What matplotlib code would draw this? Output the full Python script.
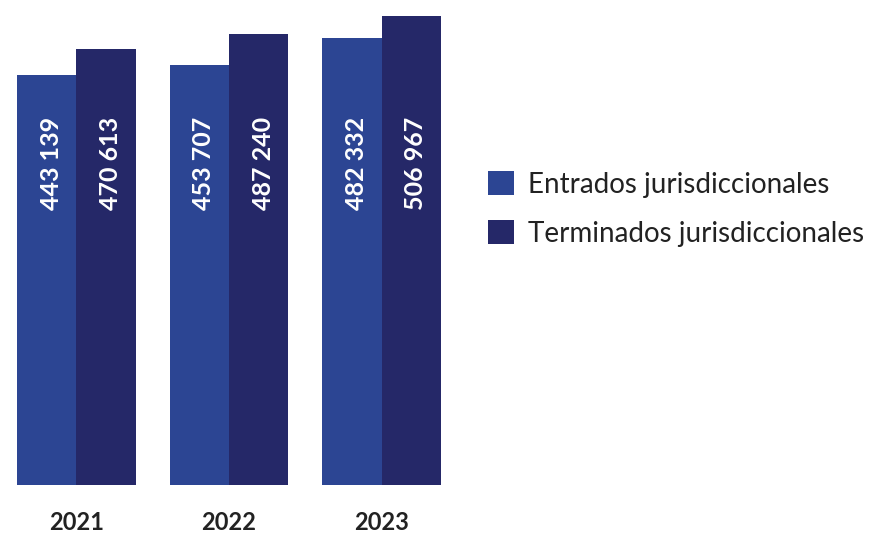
import matplotlib.pyplot as plt
import numpy as np

years = ['2021', '2022', '2023']
entrados = [443139, 453707, 482332]
terminados = [470613, 487240, 506967]
series_names = ['Entrados jurisdiccionales', 'Terminados jurisdiccionales']
colors = ['#2c4593', '#252868']

plt.rcParams['font.family'] = ['Lato', 'DejaVu Sans']

fig = plt.figure(figsize=(8.69, 5.35), dpi=100)
ax = fig.add_axes([17 / 869, 50 / 535, 424 / 869, 485 / 535])

x = np.arange(len(years))
w = 0.39
b1 = ax.bar(x - w / 2, entrados, w, color=colors[0], label=series_names[0])
b2 = ax.bar(x + w / 2, terminados, w, color=colors[1], label=series_names[1])

fmt = lambda v: '{:,}'.format(v).replace(',', ' ')
for xs, vals in [(x - w / 2, entrados), (x + w / 2, terminados)]:
    for xi, v in zip(xs, vals):
        ax.text(xi + 0.03, 0.567, fmt(v), transform=ax.get_xaxis_transform(),
                rotation=90, ha='center', va='bottom', color='white',
                fontsize=18, fontweight='bold')

ax.set_xlim(-0.39, 2.39)
ax.set_ylim(0, 523800)
ax.set_xticks(x)
ax.set_xticklabels(years, fontsize=17, fontweight='bold', color='#222222')
ax.tick_params(axis='x', length=0, pad=19)
ax.set_yticks([])
for s in ax.spines.values():
    s.set_visible(False)

fig.legend(handles=[b1, b2], loc='center left', bbox_to_anchor=(463 / 869, 1 - 209 / 535),
           frameon=False, fontsize=20, handlelength=0.95, handleheight=0.95,
           handletextpad=0.5, labelspacing=0.8, labelcolor='#222222')

fig.savefig('out.png', dpi=100)
